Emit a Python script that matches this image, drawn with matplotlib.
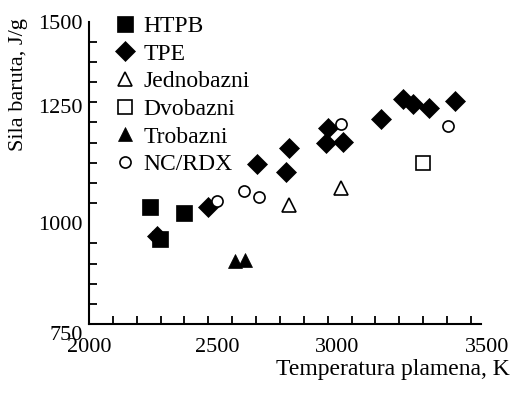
import matplotlib
matplotlib.use("Agg")
import matplotlib.pyplot as plt
from matplotlib.ticker import FixedLocator

plt.rcParams["font.family"] = ["Liberation Serif", "DejaVu Serif"]

# --- data (K, J/g) ---
htpb_t = [2256, 2398, 2297]
htpb_f = [1041, 1025, 960]

tpe_t = [2284, 2500, 2705, 2824, 2839, 2993, 3003, 3066, 3223, 3317, 3359, 3425, 3534]
tpe_f = [968, 1040, 1148, 1126, 1186, 1198, 1236, 1202, 1258, 1308, 1295, 1285, 1304]

jedno_t = [2836, 3054]
jedno_f = [1045, 1087]

dvo_t = [3401]
dvo_f = [1149]

tro_t = [2612, 2654]
tro_f = [906, 909]

ncrdx_t = [2538, 2649, 2714, 3056, 3503]
ncrdx_f = [1056, 1079, 1064, 1245, 1241]

# tick labels sit a bit off their grid positions in the source figure
xlab_pos = [2000, 2536, 3039, 3668]
xlab_txt = ["2000", "2500", "3000", "3500"]
ylab_pos = [728, 1000, 1291, 1500]
ylab_txt = ["750", "1000", "1250", "1500"]

W, H = 518, 393
fig = plt.figure(figsize=(W / 100, H / 100), dpi=100)

# pixel frame of the plot area
x0, x1 = 89, 487.6
y_top, y_bot = 21.7, 334.1
ax = fig.add_axes([x0 / W, 1 - y_bot / H, (x1 - x0) / W, (y_bot - y_top) / H])

fs = 16
ax.plot(htpb_t, htpb_f, "s", ms=11, mfc="k", mec="k", mew=0.5, ls="none", label="HTPB")
ax.plot(tpe_t, tpe_f, "D", ms=9.7, mfc="k", mec="k", mew=0.5, ls="none", label="TPE")
ax.plot(jedno_t, jedno_f, "^", ms=10.5, mfc="w", mec="k", mew=1.2, ls="none", label="Jednobazni")
ax.plot(dvo_t, dvo_f, "s", ms=10.5, mfc="w", mec="k", mew=1.2, ls="none", label="Dvobazni")
ax.plot(tro_t, tro_f, "^", ms=10.5, mfc="k", mec="k", mew=0.5, ls="none", label="Trobazni")
ax.plot(ncrdx_t, ncrdx_f, "o", ms=8, mfc="w", mec="k", mew=1.2, ls="none", label="NC/RDX")

ax.set_xlim(2000, 3670)
ax.set_ylim(725, 1500)

for s in ("top", "right"):
    ax.spines[s].set_visible(False)
ax.spines["bottom"].set_position(("data", 750))
ax.spines["bottom"].set_bounds(2000, 3642)
ax.spines["left"].set_bounds(750, 1500)
for s in ("left", "bottom"):
    ax.spines[s].set_linewidth(1.5)

ax.xaxis.set_major_locator(FixedLocator(xlab_pos))
ax.set_xticklabels(xlab_txt)
ax.yaxis.set_major_locator(FixedLocator(ylab_pos))
ax.set_yticklabels(ylab_txt)
ax.xaxis.set_minor_locator(FixedLocator(list(range(2100, 3700, 100))))
ax.yaxis.set_minor_locator(FixedLocator(list(range(800, 1550, 50))))
ax.tick_params(which="major", length=0, labelsize=fs)
ax.tick_params(axis="x", which="major", pad=10)
ax.tick_params(axis="y", which="major", pad=4.5)
ax.tick_params(which="minor", direction="in", length=6, width=1.3)

fig.text(510 / W, 1 - 370 / H, "Temperatura plamena, K", ha="right", va="center", fontsize=17)
fig.text(19 / W, 1 - 85 / H, "Sila baruta, J/g", rotation=90, ha="center", va="center", fontsize=fs)

ax.legend(loc="upper left", bbox_to_anchor=((114 - x0) / (x1 - x0), 1.02),
          frameon=False, fontsize=17, borderpad=0, borderaxespad=0,
          handlelength=0.95, handletextpad=0.3, labelspacing=0.26, numpoints=1)

fig.savefig("out.png", dpi=100)
